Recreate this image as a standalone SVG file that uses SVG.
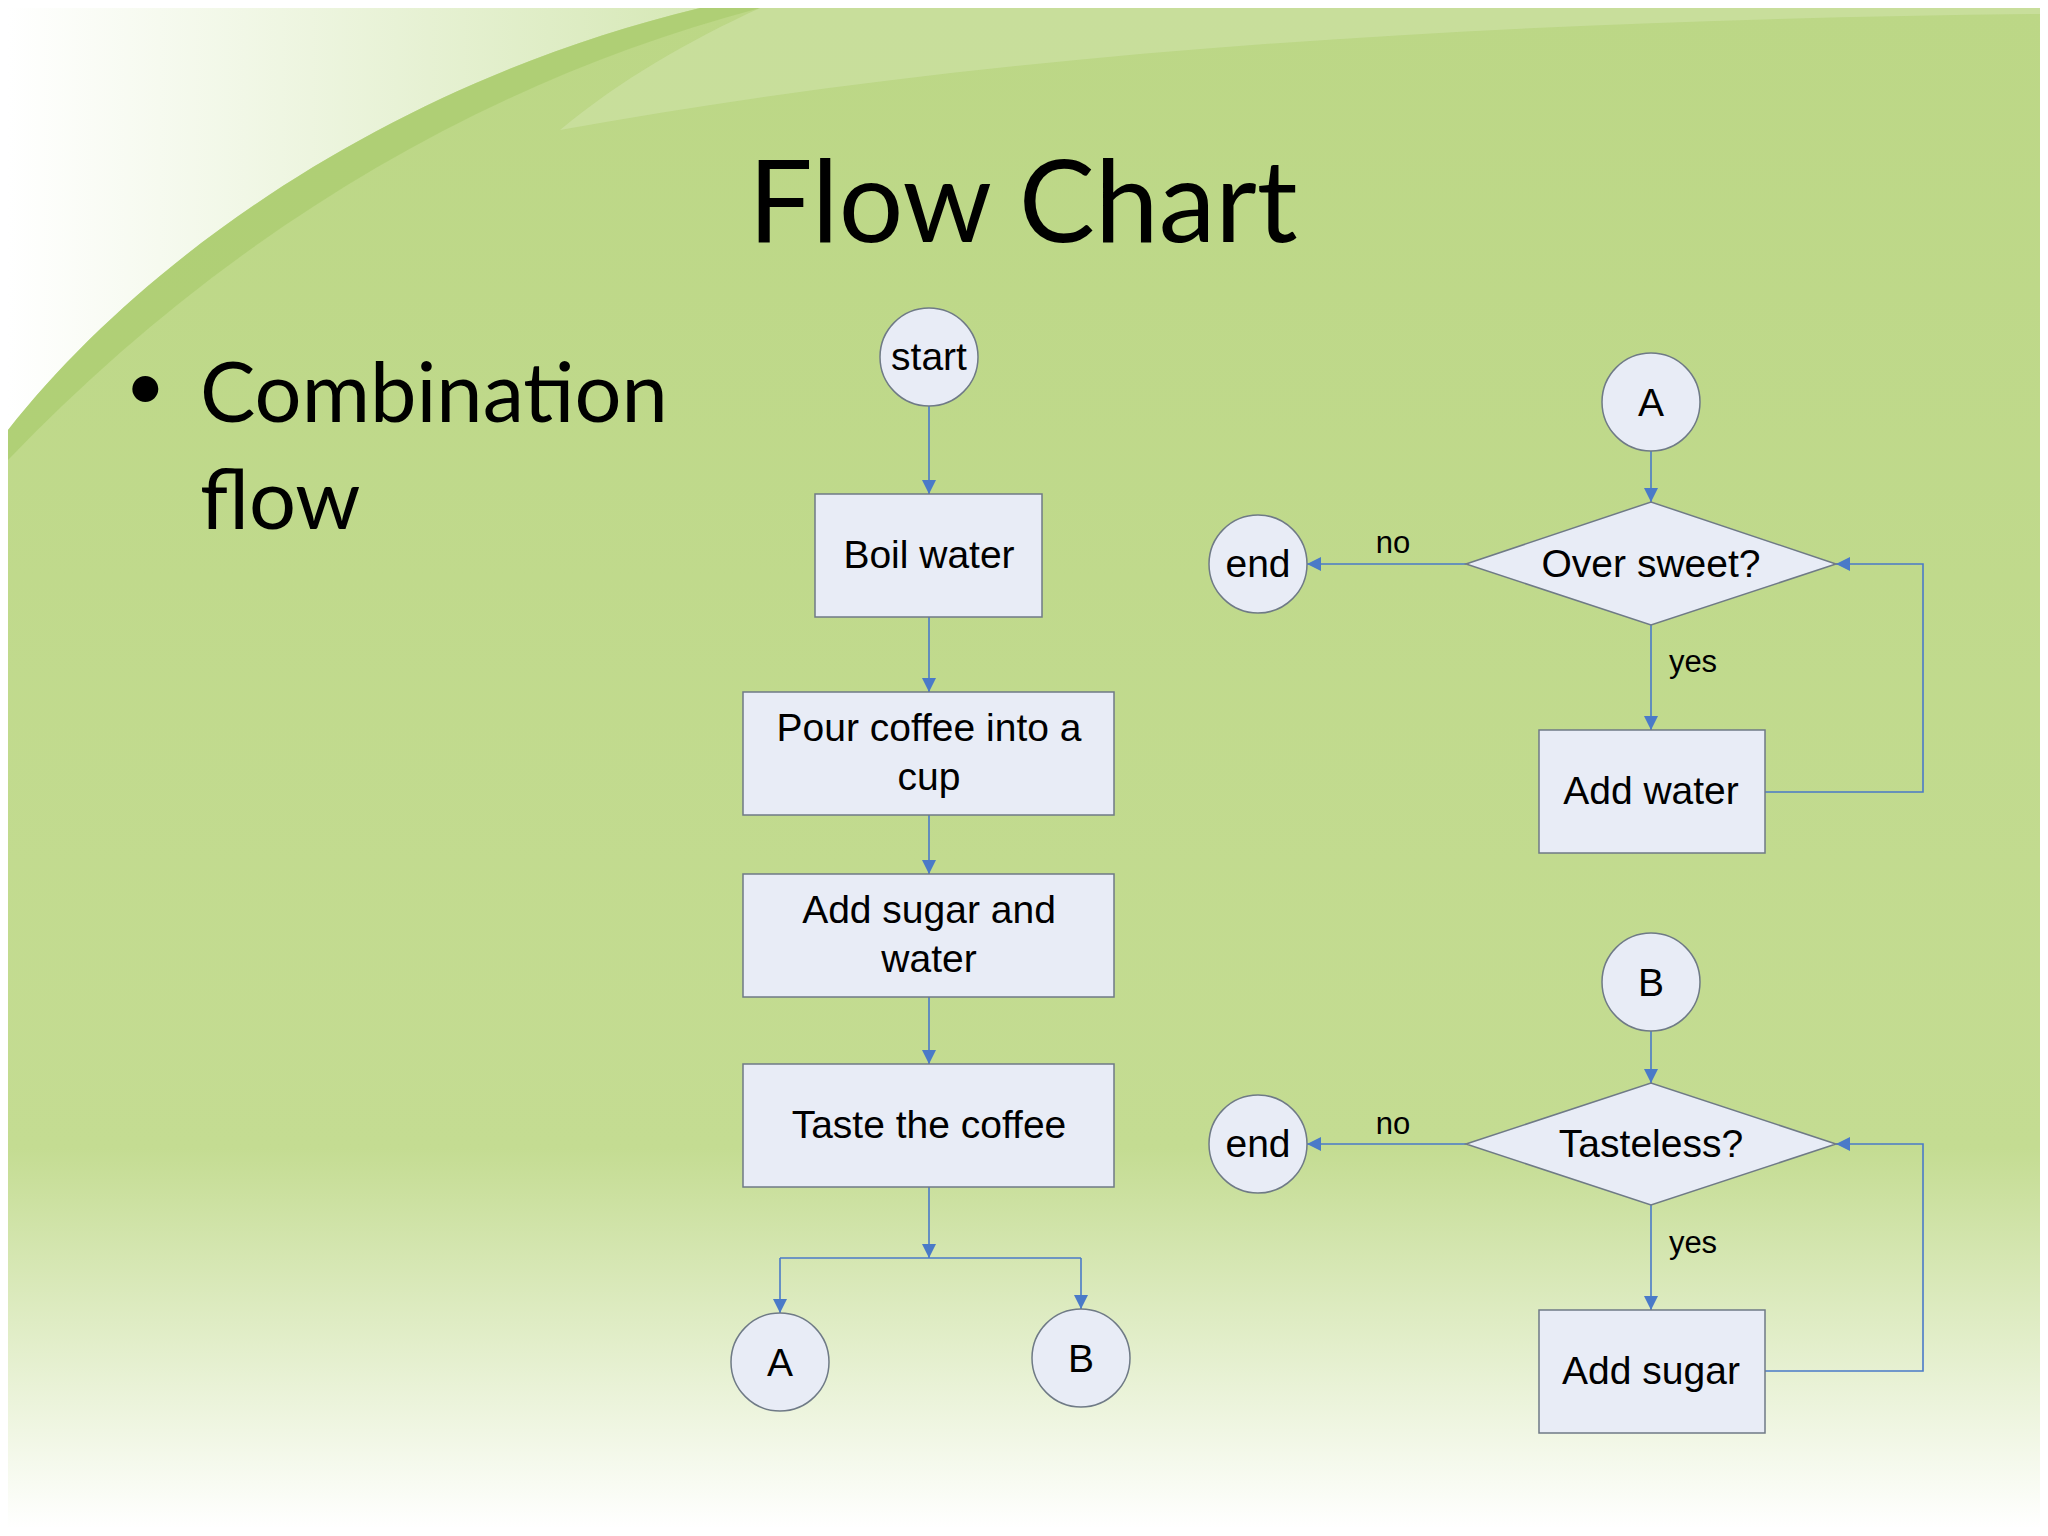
<svg xmlns="http://www.w3.org/2000/svg" width="2048" height="1536" viewBox="0 0 2048 1536">
<style>
.n{fill:#e8ecf6;stroke:#6f7a86;stroke-width:1.5}
.t{font-family:"Liberation Sans",Arial,sans-serif;font-size:39px;fill:#000;text-anchor:middle}
.l{font-family:"Liberation Sans",Arial,sans-serif;font-size:31px;fill:#000;text-anchor:middle}
.c{fill:none;stroke:#4a7ac8;stroke-width:1.6}
</style>
<defs>
<marker id="ar" viewBox="0 0 10 10" refX="10" refY="5" markerWidth="14" markerHeight="14" markerUnits="userSpaceOnUse" orient="auto"><path d="M0,0 L10,5 L0,10 z" fill="#4a7ac8"/></marker>
<linearGradient id="bg" x1="0" y1="0" x2="0" y2="1">
<stop offset="0" stop-color="#bcd786"/><stop offset="0.75" stop-color="#c4dc92"/><stop offset="1" stop-color="#ffffff"/></linearGradient>
<linearGradient id="sw" x1="0" y1="0" x2="1" y2="0"><stop offset="0" stop-color="#ffffff"/><stop offset="1" stop-color="#d6e8b6"/></linearGradient>
</defs>
<rect width="2048" height="1536" fill="#fff"/>
<rect x="8" y="8" width="2032" height="1520" fill="url(#bg)"/>
<path d="M8,8 L700,8 C400,80 150,250 8,430 Z" fill="url(#sw)"/>
<path d="M8,430 C150,250 400,80 700,8 L760,8 C450,90 200,260 8,460 Z" fill="#a9cc6e" opacity="0.7"/>
<path d="M760,8 L2040,8 L2040,14 C1500,20 1000,50 560,130 C620,80 690,40 760,8Z" fill="#d4e6b0" opacity="0.5"/>
<text x="1023" y="242" font-family="Lato,'Open Sans',sans-serif" font-size="114" text-anchor="middle" fill="#000">Flow Chart</text>
<text x="125" y="410" font-family="Lato,sans-serif" font-size="70" fill="#000">•</text>
<text x="200" y="422" font-family="Lato,sans-serif" font-size="83" fill="#000">Combination</text>
<text x="200" y="529" font-family="Lato,sans-serif" font-size="83" fill="#000">flow</text>
<g id="connectors">
<path class="c" d="M929,406 V494" marker-end="url(#ar)"/>
<path class="c" d="M929,617 V692" marker-end="url(#ar)"/>
<path class="c" d="M929,815 V874" marker-end="url(#ar)"/>
<path class="c" d="M929,997 V1064" marker-end="url(#ar)"/>
<path class="c" d="M929,1187 V1258" marker-end="url(#ar)"/>
<path class="c" d="M780,1258 H1081"/>
<path class="c" d="M780,1258 V1313" marker-end="url(#ar)"/>
<path class="c" d="M1081,1258 V1309" marker-end="url(#ar)"/>
<path class="c" d="M1651,451 V502" marker-end="url(#ar)"/>
<path class="c" d="M1466,564 H1307" marker-end="url(#ar)"/>
<path class="c" d="M1651,625 V730" marker-end="url(#ar)"/>
<path class="c" d="M1765,792 H1923 V564 H1836" marker-end="url(#ar)"/>
<path class="c" d="M1651,1031 V1083" marker-end="url(#ar)"/>
<path class="c" d="M1466,1144 H1307" marker-end="url(#ar)"/>
<path class="c" d="M1651,1205 V1310" marker-end="url(#ar)"/>
<path class="c" d="M1765,1371 H1923 V1144 H1836" marker-end="url(#ar)"/>
<text class="l" x="1393" y="553">no</text>
<text class="l" x="1693" y="672">yes</text>
<text class="l" x="1393" y="1134">no</text>
<text class="l" x="1693" y="1253">yes</text>
</g>
<g id="start"><circle class="n" cx="929" cy="357" r="49"/><text class="t" x="929" y="370">start</text></g>
<g id="boil"><rect class="n" x="815" y="494" width="227" height="123"/><text class="t" x="929" y="568">Boil water</text></g>
<g id="pour"><rect class="n" x="743" y="692" width="371" height="123"/><text class="t" x="929" y="741">Pour coffee into a</text><text class="t" x="929" y="790">cup</text></g>
<g id="addsw"><rect class="n" x="743" y="874" width="371" height="123"/><text class="t" x="929" y="923">Add sugar and</text><text class="t" x="929" y="972">water</text></g>
<g id="taste"><rect class="n" x="743" y="1064" width="371" height="123"/><text class="t" x="929" y="1138">Taste the coffee</text></g>
<g id="a1"><circle class="n" cx="780" cy="1362" r="49"/><text class="t" x="780" y="1376">A</text></g>
<g id="b1"><circle class="n" cx="1081" cy="1358" r="49"/><text class="t" x="1081" y="1372">B</text></g>
<g id="a2"><circle class="n" cx="1651" cy="402" r="49"/><text class="t" x="1651" y="416">A</text></g>
<g id="d1"><path class="n" d="M1466,564 L1651,502 L1836,564 L1651,625 Z"/><text class="t" x="1651" y="577">Over sweet?</text></g>
<g id="end1"><circle class="n" cx="1258" cy="564" r="49"/><text class="t" x="1258" y="577">end</text></g>
<g id="addw"><rect class="n" x="1539" y="730" width="226" height="123"/><text class="t" x="1651" y="804">Add water</text></g>
<g id="b2"><circle class="n" cx="1651" cy="982" r="49"/><text class="t" x="1651" y="996">B</text></g>
<g id="d2"><path class="n" d="M1466,1144 L1651,1083 L1836,1144 L1651,1205 Z"/><text class="t" x="1651" y="1157">Tasteless?</text></g>
<g id="end2"><circle class="n" cx="1258" cy="1144" r="49"/><text class="t" x="1258" y="1157">end</text></g>
<g id="adds"><rect class="n" x="1539" y="1310" width="226" height="123"/><text class="t" x="1651" y="1384">Add sugar</text></g>
</svg>
